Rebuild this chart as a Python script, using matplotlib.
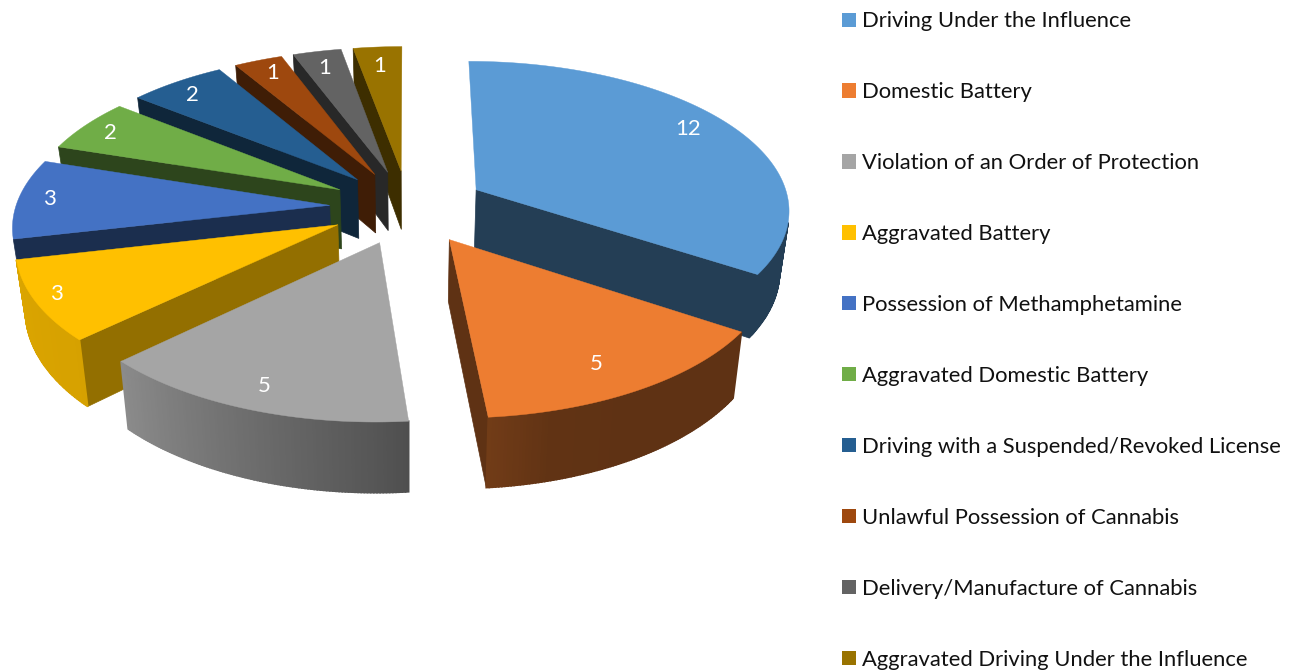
import numpy as np
import matplotlib
matplotlib.use("Agg")
import matplotlib.pyplot as plt
from matplotlib.patches import Polygon, Patch

categories = ["Driving Under the Influence", "Domestic Battery",
              "Violation of an Order of Protection", "Aggravated Battery",
              "Possession of Methamphetamine", "Aggravated Domestic Battery",
              "Driving with a Suspended/Revoked License",
              "Unlawful Possession of Cannabis", "Delivery/Manufacture of Cannabis",
              "Aggravated Driving Under the Influence"]
values = [12, 5, 5, 3, 3, 2, 2, 1, 1, 1]
colors = ["#5B9BD5", "#ED7D31", "#A5A5A5", "#FFC000", "#4472C4",
          "#70AD47", "#255E91", "#9E480E", "#636363", "#997300"]
label_nudge_x = [-8, -14, -4, -24, -12, -9, -7, -1, -1, -1]
label_nudge_y = [-5, -3, 3, 4, -1, -1, 0, -2, 1, 3]

W, H = 1291, 671
CX, CY, A, B, K = 408, 207, 314, 148, 0.122
EXPLODE, DEPTH, TAPER = 0.25, 60, 0.975
plt.rcParams["font.family"] = ["Lato", "DejaVu Sans"]

fig = plt.figure(figsize=(W / 100, H / 100), dpi=100)
ax = fig.add_axes([0, 0, 1, 1])
ax.set_xlim(0, W)
ax.set_ylim(H, 0)
ax.axis("off")


def project(u, v, bottom=False):
    s = 1 / (1 + K * v)
    x = A * u * s
    y = -B * v * s
    if bottom:
        return CX + x * TAPER, CY + y + DEPTH * s
    return CX + x, CY + y


def shade(c, f):
    rgb = np.array(matplotlib.colors.to_rgb(c))
    return tuple(rgb * f)


def rim_light(deg):
    return np.interp(deg, [0, 150, 165, 175, 180, 226, 260, 360],
                     [.40, .40, .41, .48, .52, .84, .86, .86])


def cut_light(deg):
    return np.interp(deg, [0, 200, 226, 245, 360], [.40, .40, .58, .40, .40])


def area(pts):
    p = np.array(pts)
    x, y = p[:, 0], p[:, 1]
    return 0.5 * np.sum(x * np.roll(y, -1) - np.roll(x, -1) * y)


total = sum(values)
edges = np.concatenate([[0], np.cumsum(values)]) / total * 360
order = sorted(range(len(values)),
               key=lambda i: -np.cos(np.radians((edges[i] + edges[i + 1]) / 2)))

for z, i in enumerate(order):
    a0, a1 = edges[i], edges[i + 1]
    mid = np.radians((a0 + a1) / 2)
    ou, ov = EXPLODE * np.sin(mid), EXPLODE * np.cos(mid)
    th = np.radians(np.linspace(a0, a1, max(int(a1 - a0) * 2, 4) + 1))
    us, vs = ou + np.sin(th), ov + np.cos(th)
    col = colors[i]
    apex_t, apex_b = project(ou, ov), project(ou, ov, True)
    top = [project(u, v) for u, v in zip(us, vs)]
    bot = [project(u, v, True) for u, v in zip(us, vs)]
    zo = 2 + z
    # radial cut faces, culled when they face away (slivers are dropped too)
    for a, b, sign, deg in [(top[0], bot[0], 1, a0), (top[-1], bot[-1], -1, a1)]:
        quad = [apex_t, a, b, apex_b]
        if area(quad) * sign < -800:
            c = shade(col, cut_light(deg))
            ax.add_patch(Polygon(quad, fc=c, ec=c, lw=.5, zorder=zo))
    # curved rim with angular shading
    for j in range(len(th) - 1):
        quad = [top[j], top[j + 1], bot[j + 1], bot[j]]
        if area(quad) < 0:
            c = shade(col, rim_light(np.degrees((th[j] + th[j + 1]) / 2)))
            ax.add_patch(Polygon(quad, fc=c, ec=c, lw=1.2, zorder=zo))
    ax.add_patch(Polygon([apex_t] + top, fc=col, ec=col, lw=.3, zorder=zo + .5))
    r = 0.86
    lx, ly = project(ou + r * np.sin(mid), ov + r * np.cos(mid))
    ax.text(lx + label_nudge_x[i], ly + label_nudge_y[i], str(values[i]), color="white",
            fontsize=16, ha="center", va="center", zorder=50)

handles = [Patch(fc=c, ec="none") for c in colors]
fig.legend(handles, categories, loc="upper left", bbox_to_anchor=(838 / W, 1 - 7 / H),
           bbox_transform=fig.transFigure, frameon=False, fontsize=15.8,
           handlelength=0.62, handleheight=0.62, handletextpad=0.28,
           labelspacing=2.32, labelcolor="#111111", borderpad=0.2, borderaxespad=0)
fig.savefig("out.png", dpi=100)
